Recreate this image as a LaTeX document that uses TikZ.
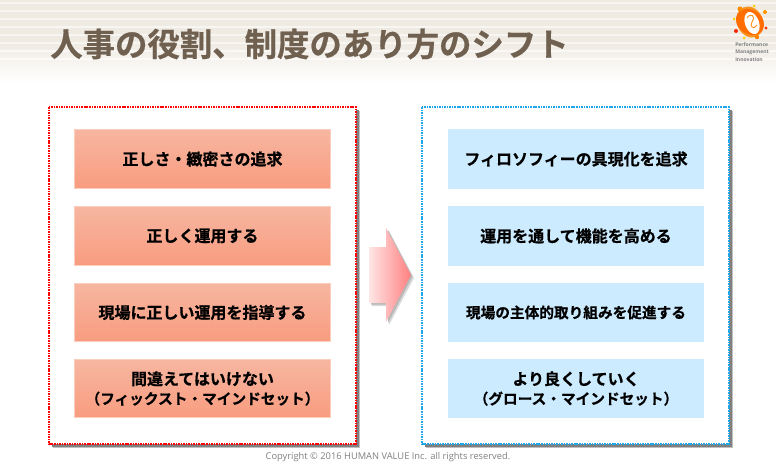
\documentclass[tikz,border=0pt]{standalone}
\usepackage{fontspec}
\usepackage{xcolor}
\setmainfont{Open Sans}
\newfontfamily\jpbold[FakeBold=0.6]{Noto Sans CJK JP Bold}
\usetikzlibrary{positioning,calc}
\definecolor{titlebrown}{HTML}{6F6050}
\definecolor{bandtan}{HTML}{EFEAE2}
\definecolor{salmontop}{HTML}{F7B6A1}
\definecolor{salmonbot}{HTML}{F89C7F}
\definecolor{salmonedge}{HTML}{FBCDBD}
\definecolor{skybox}{HTML}{CCEBFF}
\definecolor{skydot}{HTML}{1DA7EA}
\definecolor{logoorange}{HTML}{F7931E}
\tikzset{
    leftbox/.style={shade, top color=salmontop, bottom color=salmonbot, draw=salmonedge, line width=0.6pt,
        minimum width=192.5pt, minimum height=44pt, align=center, font=\jpbold\fontsize{12}{14.5}\selectfont, inner sep=0pt},
    rightbox/.style={fill=skybox, minimum width=192.5pt, minimum height=44.5pt, align=center,
        font=\jpbold\fontsize{12}{14.5}\selectfont, inner sep=0pt},
    dotframe/.style={fill=white, line width=2.2pt, dash pattern=on 1.2pt off 0.7pt},
    framedrop/.style={fill=black!25},
    logotext/.style={font=\fontsize{3.8}{5.6}\selectfont\bfseries, text=black!50, inner sep=0pt, align=left, anchor=north west}
}
\begin{document}
\begin{tikzpicture}[x=0.75pt,y=-0.75pt]
    \useasboundingbox (0,0) rectangle (776,475);

    % Title band
    \fill[bandtan] (0,0) rectangle (776,42);
    \shade[top color=bandtan, bottom color=white] (0,42) rectangle (776,82);
    \foreach \y in {3,11,19,27,35,43,51,59}
        \draw[white, opacity=0.6, line width=1pt] (0,\y) -- (776,\y);
    \node[text=titlebrown, font=\jpbold\fontsize{24.3}{28}\selectfont, anchor=west, inner sep=0pt] (title) at (50,44) {人事の役割、制度のあり方のシフト};

    % Logo
    \fill[logoorange, rotate around={25:(750,22)}] (750,22) ellipse (13 and 16);
    \fill[orange!85!red, rotate around={-35:(750,22)}] (750,22) ellipse (15 and 12);
    \fill[white, rotate around={20:(752,23)}] (752,23) ellipse (7 and 11.5);
    \draw[logoorange, line width=0.7pt] (747,18) .. controls (751,12) and (756,16) .. (752,22) .. controls (749,27) and (754,30) .. (757,25);
    \fill[orange!90!yellow] (740,9) circle (2.5);
    \fill[yellow!70!orange] (754,6) circle (1.5);
    \fill[orange!80!yellow] (765,12) circle (2);
    \fill[yellow!70!orange] (734,19) circle (1.5);
    \fill[red!70!orange] (736,31) circle (2);
    \fill[red!60!orange] (766,28) circle (1.7);
    \fill[orange] (757,37) circle (2.2);
    \fill[yellow!70!orange] (744,38) circle (1.5);
    \node[logotext] (logoname) at (735,42) {Performance\\Management\\Innovation};

    % Left frame
    \fill[framedrop] (53,111) rectangle (360,448);
    \fill[black!50] (52,110) rectangle (358.5,446.5);
    \draw[dotframe, draw=red] (49,107) rectangle (356,444);
    % Right frame
    \fill[framedrop] (426,111) rectangle (733,448);
    \fill[black!50] (425,110) rectangle (731.5,446.5);
    \draw[dotframe, draw=skydot] (422,107) rectangle (729,444);

    % Left boxes
    \node[leftbox] (left1) at (202.5,159) {正しさ・緻密さの追求};
    \node[leftbox] (left2) at (202.5,236) {正しく運用する};
    \node[leftbox] (left3) at (202.5,312.5) {現場に正しい運用を指導する};
    \node[leftbox] (left4) at (202.5,388.5) {間違えてはいけない\\{\fontsize{11}{14}\selectfont（フィックスト・マインドセット）}};

    % Right boxes
    \node[rightbox] (right1) at (576,159) {フィロソフィーの具現化を追求};
    \node[rightbox] (right2) at (576,236) {運用を通して機能を高める};
    \node[rightbox] (right3) at (576,312.5) {{\fontsize{11}{14}\selectfont 現場の主体的取り組みを促進する}};
    \node[rightbox] (right4) at (576,388.5) {より良くしていく\\{\fontsize{11}{14}\selectfont（グロース・マインドセット）}};

    % Shift arrow
    \fill[black!15] (372,250) -- (389,250) -- (389,231) -- (414,278) -- (389,325) -- (389,306) -- (372,306) -- cycle;
    \fill[black!28] (371,249) -- (388,249) -- (388,230) -- (412.5,276.5) -- (388,323) -- (388,304.5) -- (371,304.5) -- cycle;
    \shade[left color=red!10, right color=red!50] (369,247) -- (386,247) -- (386,228) -- (411,275) -- (386,322) -- (386,303) -- (369,303) -- cycle;

    % Footer
    \node[text=black!50, font=\fontsize{7}{8}\selectfont, inner sep=0pt] (copyright) at (388,457) {Copyright © 2016 HUMAN VALUE Inc. all rights reserved.};
\end{tikzpicture}
\end{document}
